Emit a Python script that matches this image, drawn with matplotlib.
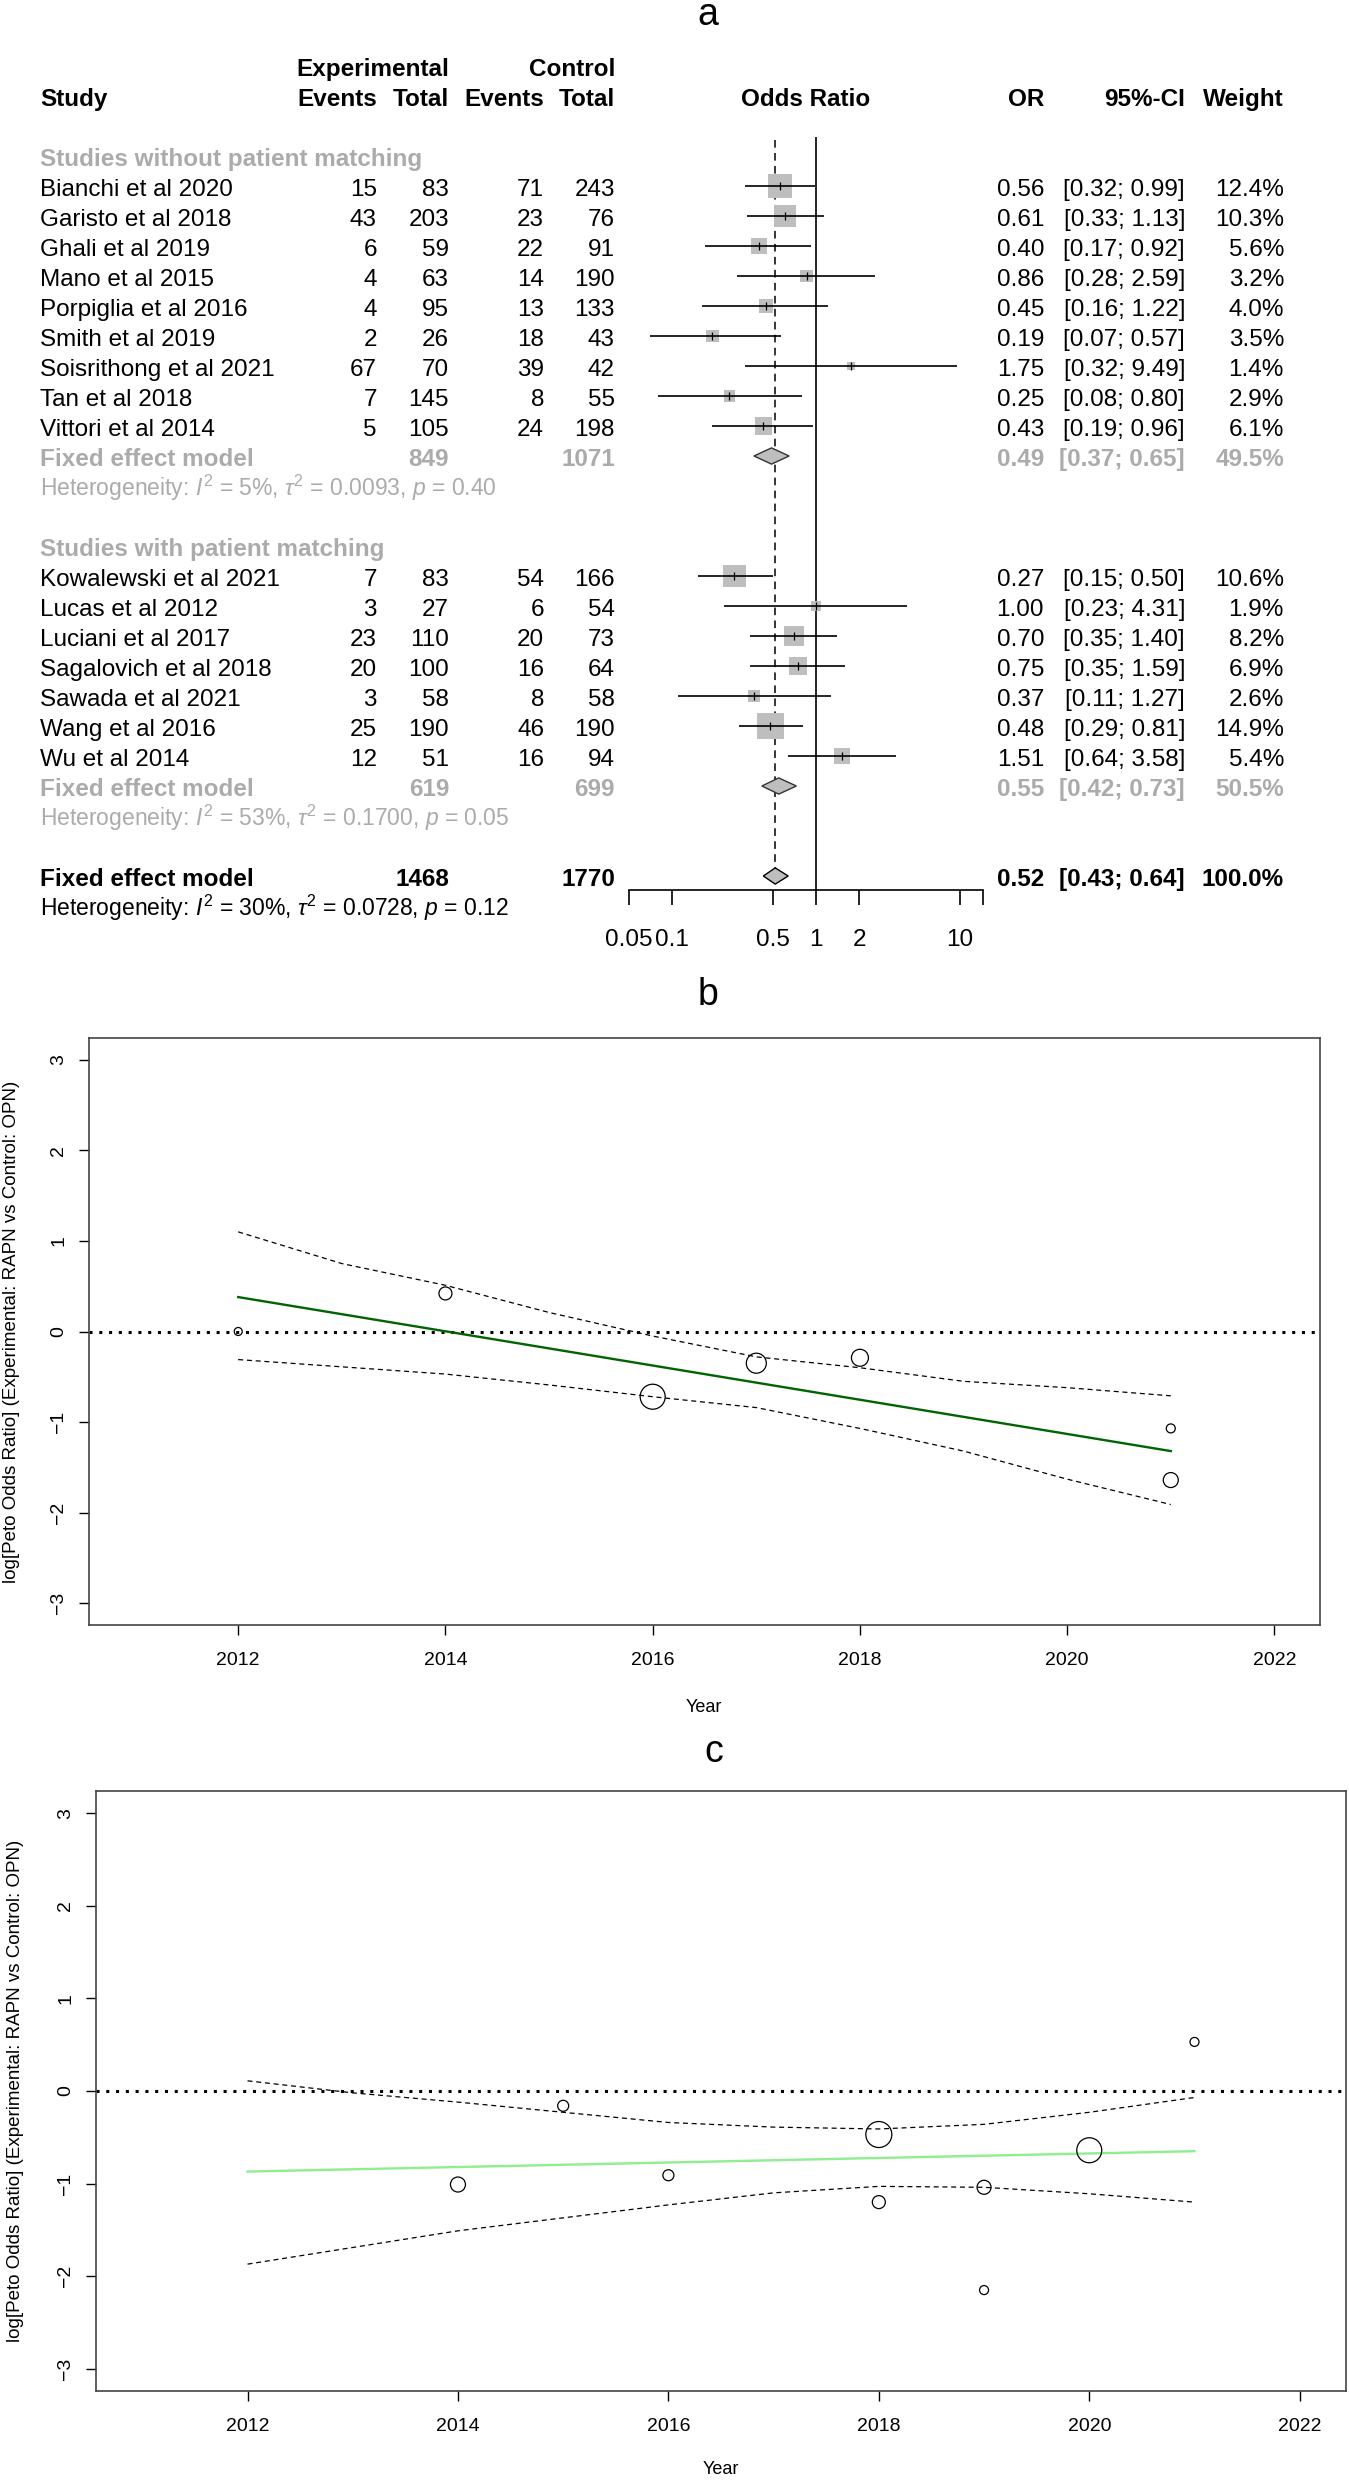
import numpy as np
import matplotlib
matplotlib.use("Agg")
import matplotlib.pyplot as plt
from matplotlib.patches import Polygon
from matplotlib.ticker import NullLocator

plt.rcParams['font.family'] = ['Liberation Sans', 'DejaVu Sans']
plt.rcParams['mathtext.fontset'] = 'custom'
plt.rcParams['mathtext.rm'] = 'Liberation Sans'
plt.rcParams['mathtext.it'] = 'Liberation Sans:italic'
plt.rcParams['mathtext.bf'] = 'Liberation Sans:bold'

# ======================= DATA : panel a (forest plot) =======================
g1_label = "Studies without patient matching"
g1_study = ["Bianchi et al 2020", "Garisto et al 2018", "Ghali et al 2019", "Mano et al 2015",
            "Porpiglia et al 2016", "Smith et al 2019", "Soisrithong et al 2021", "Tan et al 2018",
            "Vittori et al 2014"]
g1_exp_events = [15, 43, 6, 4, 4, 2, 67, 7, 5]
g1_exp_total = [83, 203, 59, 63, 95, 26, 70, 145, 105]
g1_ctl_events = [71, 23, 22, 14, 13, 18, 39, 8, 24]
g1_ctl_total = [243, 76, 91, 190, 133, 43, 42, 55, 198]
g1_or = [0.56, 0.61, 0.40, 0.86, 0.45, 0.19, 1.75, 0.25, 0.43]
g1_lo = [0.32, 0.33, 0.17, 0.28, 0.16, 0.07, 0.32, 0.08, 0.19]
g1_hi = [0.99, 1.13, 0.92, 2.59, 1.22, 0.57, 9.49, 0.80, 0.96]
g1_weight = [12.4, 10.3, 5.6, 3.2, 4.0, 3.5, 1.4, 2.9, 6.1]
g1_fe = [0.49, 0.37, 0.65]
g1_fe_weight = 49.5
g1_exp_sum, g1_ctl_sum = 849, 1071
g1_het = r"Heterogeneity: $I^2$ = 5%, $\tau^2$ = 0.0093, $p$ = 0.40"

g2_label = "Studies with patient matching"
g2_study = ["Kowalewski et al 2021", "Lucas et al 2012", "Luciani et al 2017", "Sagalovich et al 2018",
            "Sawada et al 2021", "Wang et al 2016", "Wu et al 2014"]
g2_exp_events = [7, 3, 23, 20, 3, 25, 12]
g2_exp_total = [83, 27, 110, 100, 58, 190, 51]
g2_ctl_events = [54, 6, 20, 16, 8, 46, 16]
g2_ctl_total = [166, 54, 73, 64, 58, 190, 94]
g2_or = [0.27, 1.00, 0.70, 0.75, 0.37, 0.48, 1.51]
g2_lo = [0.15, 0.23, 0.35, 0.35, 0.11, 0.29, 0.64]
g2_hi = [0.50, 4.31, 1.40, 1.59, 1.27, 0.81, 3.58]
g2_weight = [10.6, 1.9, 8.2, 6.9, 2.6, 14.9, 5.4]
g2_fe = [0.55, 0.42, 0.73]
g2_fe_weight = 50.5
g2_exp_sum, g2_ctl_sum = 619, 699
g2_het = r"Heterogeneity: $I^2$ = 53%, $\tau^2$ = 0.1700, $p$ = 0.05"

all_fe = [0.52, 0.43, 0.64]
all_fe_weight = 100.0
all_exp_sum, all_ctl_sum = 1468, 1770
all_het = r"Heterogeneity: $I^2$ = 30%, $\tau^2$ = 0.0728, $p$ = 0.12"

or_ticks = [0.05, 0.1, 0.5, 1, 2, 10]
or_axis_range = [0.05, 14.5]

# ======================= DATA : panel b (bubble plot) =======================
b_year = [2012, 2014, 2016, 2017, 2018, 2021, 2021]
b_logor = [0.00, 0.42, -0.72, -0.35, -0.29, -1.07, -1.64]
b_size = [8, 13, 25, 20, 17, 9, 15]
b_fit_year = [2012, 2021]
b_fit = [0.38, -1.32]
b_ci_year = [2012, 2013, 2014, 2015, 2016, 2017, 2018, 2019, 2020, 2021]
b_ci_upper = [1.10, 0.75, 0.51, 0.21, -0.05, -0.28, -0.40, -0.55, -0.62, -0.71]
b_ci_lower = [-0.31, -0.39, -0.47, -0.59, -0.72, -0.84, -1.07, -1.32, -1.63, -1.91]

# ======================= DATA : panel c (bubble plot) =======================
c_year = [2014, 2015, 2016, 2018, 2018, 2019, 2019, 2020, 2021]
c_logor = [-1.01, -0.16, -0.91, -0.47, -1.20, -1.04, -2.15, -0.64, 0.53]
c_size = [15, 11, 11, 26, 13, 14, 9, 25, 9]
c_fit_year = [2012, 2021]
c_fit = [-0.87, -0.65]
c_ci_year = [2012, 2013, 2014, 2015, 2016, 2017, 2018, 2019, 2020, 2021]
c_ci_upper = [0.11, -0.02, -0.12, -0.23, -0.34, -0.39, -0.41, -0.36, -0.23, -0.07]
c_ci_lower = [-1.87, -1.69, -1.51, -1.37, -1.23, -1.10, -1.03, -1.04, -1.11, -1.20]

year_ticks = [2012, 2014, 2016, 2018, 2020, 2022]
year_range = [2011, 2022]
logor_ticks = [-3, -2, -1, 0, 1, 2, 3]
logor_range = [-3, 3]
ylab = "log[Peto Odds Ratio] (Experimental: RAPN vs Control: OPN)"

# ======================= LAYOUT / STYLE =======================
W, H, DPI = 1349, 2480, 100
GRAY_TXT = '#ABABAB'
GRAY_FILL = '#BEBEBE'
FS = 17.5
FS_HET = 16.5


def fx(px):
    return px / W


def fy(py):
    return 1 - py / H


fig = plt.figure(figsize=(W / DPI, H / DPI), dpi=DPI)

# ---------- panel a ----------
A_BOT = 960
ROW0, ROWH = 66, 30
r_top = (0 - ROW0) / ROWH
r_bot = (A_BOT - ROW0) / ROWH
BASE = 0.32  # baseline offset of text inside a row

axt = fig.add_axes([0, fy(A_BOT), 1, A_BOT / H])
axt.set_xlim(0, W)
axt.set_ylim(r_bot, r_top)
axt.axis('off')

FOREST_L, FOREST_R = 629, 983
axf = fig.add_axes([fx(FOREST_L), fy(A_BOT), (FOREST_R - FOREST_L) / W, A_BOT / H])
axf.set_xscale('log')
axf.set_xlim(*or_axis_range)
axf.set_ylim(r_bot, r_top)
axf.patch.set_visible(False)
for s in ['top', 'left', 'right']:
    axf.spines[s].set_visible(False)
axf.set_yticks([])

# column x positions (pixels)
X_STUDY, X_EE, X_ET, X_CE, X_CT = 40, 377, 449, 544, 615
X_OR, X_CI, X_W, X_ORHDR = 1044, 1185, 1284, 806

# rows
r_hdr1, r_hdr2 = 0, 1
r_sub1 = 3
r_g1 = np.arange(len(g1_study)) + r_sub1 + 1
r_g1_fe = r_g1[-1] + 1
r_g1_het = r_g1_fe + 1
r_sub2 = r_g1_het + 2
r_g2 = np.arange(len(g2_study)) + r_sub2 + 1
r_g2_fe = r_g2[-1] + 1
r_g2_het = r_g2_fe + 1
r_all = r_g2_het + 2
r_all_het = r_all + 1
r_axis = r_all + 0.48


def txt(r, x, s, ha='right', color='black', weight='normal', fs=FS):
    axt.text(x, r + BASE, s, ha=ha, va='baseline', fontsize=fs, color=color, fontweight=weight)


# headers
txt(r_hdr1, X_ET, "Experimental", weight='bold')
txt(r_hdr1, X_CT, "Control", weight='bold')
txt(r_hdr2, X_STUDY, "Study", ha='left', weight='bold')
for x, s in [(X_EE, "Events"), (X_ET, "Total"), (X_CE, "Events"), (X_CT, "Total"),
             (X_OR, "OR"), (X_CI, "95%-CI"), (X_W, "Weight")]:
    txt(r_hdr2, x, s, weight='bold')
txt(r_hdr2, X_ORHDR, "Odds Ratio", ha='center', weight='bold')


def study_rows(rows, names, ee, et, ce, ct, orv, lo, hi, w):
    for r, n, a, b, c, d, o, l, h, ww in zip(rows, names, ee, et, ce, ct, orv, lo, hi, w):
        txt(r, X_STUDY, n, ha='left')
        txt(r, X_EE, str(a))
        txt(r, X_ET, str(b))
        txt(r, X_CE, str(c))
        txt(r, X_CT, str(d))
        txt(r, X_OR, "%.2f" % o)
        txt(r, X_CI, "[%.2f; %.2f]" % (l, h))
        txt(r, X_W, "%.1f%%" % ww)
    axf.scatter(orv, rows, marker='s', s=24.7 * np.array(w), color=GRAY_FILL,
                linewidths=0, zorder=2)
    axf.hlines(rows, lo, hi, color='black', lw=1.2, zorder=3)
    axf.vlines(orv, np.array(rows) - 0.14, np.array(rows) + 0.14, color='black', lw=0.9, zorder=4)


def summary_row(r, label, es, cs, fe, fw, color, edge):
    txt(r, X_STUDY, label, ha='left', color=color, weight='bold')
    txt(r, X_ET, str(es), color=color, weight='bold')
    txt(r, X_CT, str(cs), color=color, weight='bold')
    txt(r, X_OR, "%.2f" % fe[0], color=color, weight='bold')
    txt(r, X_CI, "[%.2f; %.2f]" % (fe[1], fe[2]), color=color, weight='bold')
    txt(r, X_W, "%.1f%%" % fw, color=color, weight='bold')
    dh = 0.27
    poly = Polygon([(fe[1], r), (fe[0], r - dh), (fe[2], r), (fe[0], r + dh)], closed=True,
                   facecolor=GRAY_FILL, edgecolor=edge, lw=1.0, zorder=5)
    axf.add_patch(poly)


# group 1
txt(r_sub1, X_STUDY, g1_label, ha='left', color=GRAY_TXT, weight='bold')
study_rows(r_g1, g1_study, g1_exp_events, g1_exp_total, g1_ctl_events, g1_ctl_total,
           g1_or, g1_lo, g1_hi, g1_weight)
summary_row(r_g1_fe, "Fixed effect model", g1_exp_sum, g1_ctl_sum, g1_fe, g1_fe_weight, GRAY_TXT, '#333333')
txt(r_g1_het, X_STUDY, g1_het, ha='left', color=GRAY_TXT, fs=FS_HET)

# group 2
txt(r_sub2, X_STUDY, g2_label, ha='left', color=GRAY_TXT, weight='bold')
study_rows(r_g2, g2_study, g2_exp_events, g2_exp_total, g2_ctl_events, g2_ctl_total,
           g2_or, g2_lo, g2_hi, g2_weight)
summary_row(r_g2_fe, "Fixed effect model", g2_exp_sum, g2_ctl_sum, g2_fe, g2_fe_weight, GRAY_TXT, '#333333')
txt(r_g2_het, X_STUDY, g2_het, ha='left', color=GRAY_TXT, fs=FS_HET)

# overall
summary_row(r_all, "Fixed effect model", all_exp_sum, all_ctl_sum, all_fe, all_fe_weight, 'black', 'black')
txt(r_all_het, X_STUDY, all_het, ha='left', fs=FS_HET)

# reference lines
axf.vlines(1, r_sub1 - 0.63, r_axis, color='black', lw=1.2, zorder=1)
axf.vlines(all_fe[0], r_sub1 - 0.55, r_all - 0.27, color='black', lw=1.1,
           linestyles=(0, (5, 3.5)), zorder=1)

# x axis of forest plot
axf.spines['bottom'].set_position(('data', r_axis))
axf.spines['bottom'].set_bounds(*or_axis_range)
axf.spines['bottom'].set_linewidth(1.2)
axf.set_xticks(or_ticks + [or_axis_range[1]])
axf.set_xticklabels(["%g" % t for t in or_ticks] + [""])
axf.xaxis.set_minor_locator(NullLocator())
axf.tick_params(axis='x', direction='out', length=10.8, width=1.2, labelsize=FS, pad=17)

fig.text(fx(708), fy(25), "a", ha='center', va='baseline', fontsize=27)


# ---------- panels b and c ----------
def bubble_panel(left, right, top, bottom, years, vals, sizes, fit_year, fit, ci_year, ci_up, ci_lo,
                 color, title, title_xy, ylab_x, year_xy):
    ax = fig.add_axes([fx(left), fy(bottom), (right - left) / W, (bottom - top) / H])
    pad_x = 0.04 * (year_range[1] - year_range[0])
    pad_y = 0.04 * (logor_range[1] - logor_range[0])
    ax.set_xlim(year_range[0] - pad_x, year_range[1] + pad_x)
    ax.set_ylim(logor_range[0] - pad_y, logor_range[1] + pad_y)
    ax.axhline(0, color='black', lw=2.2, linestyle=(0, (1, 2.2)), zorder=1)
    ax.plot(ci_year, ci_up, color='black', lw=0.9, linestyle=(0, (4, 3)), zorder=2)
    ax.plot(ci_year, ci_lo, color='black', lw=0.9, linestyle=(0, (4, 3)), zorder=2)
    ax.plot(fit_year, fit, color=color, lw=1.7, zorder=3)
    ax.scatter(years, vals, s=(np.array(sizes) * 0.72) ** 2, facecolors='none',
               edgecolors='black', linewidths=0.9, zorder=4)
    ax.set_xticks(year_ticks)
    ax.set_yticks(logor_ticks)
    ax.tick_params(axis='both', direction='out', length=7.2, width=1.0, labelsize=14)
    ax.tick_params(axis='x', pad=12)
    ax.tick_params(axis='y', pad=8.5, labelrotation=90)
    for lab in ax.get_yticklabels():
        lab.set_va('center')
    for s in ax.spines.values():
        s.set_color('#444444')
        s.set_linewidth(1.2)
    fig.text(fx(ylab_x), fy((top + bottom) / 2), ylab, rotation=90, ha='center', va='center', fontsize=13.5)
    fig.text(fx(year_xy[0]), fy(year_xy[1]), "Year", ha='center', va='center', fontsize=13)
    fig.text(fx(title_xy[0]), fy(title_xy[1]), title, ha='center', va='baseline', fontsize=27)
    return ax


bubble_panel(89, 1320, 1038, 1625, b_year, b_logor, b_size, b_fit_year, b_fit, b_ci_year,
             b_ci_upper, b_ci_lower, '#006400', 'b', (708, 1005), 12, (704, 1707))
bubble_panel(96, 1346, 1791, 2391, c_year, c_logor, c_size, c_fit_year, c_fit, c_ci_year,
             c_ci_upper, c_ci_lower, '#90EE90', 'c', (714, 1762), 16, (721, 2470))

fig.savefig("out.png", dpi=DPI)
